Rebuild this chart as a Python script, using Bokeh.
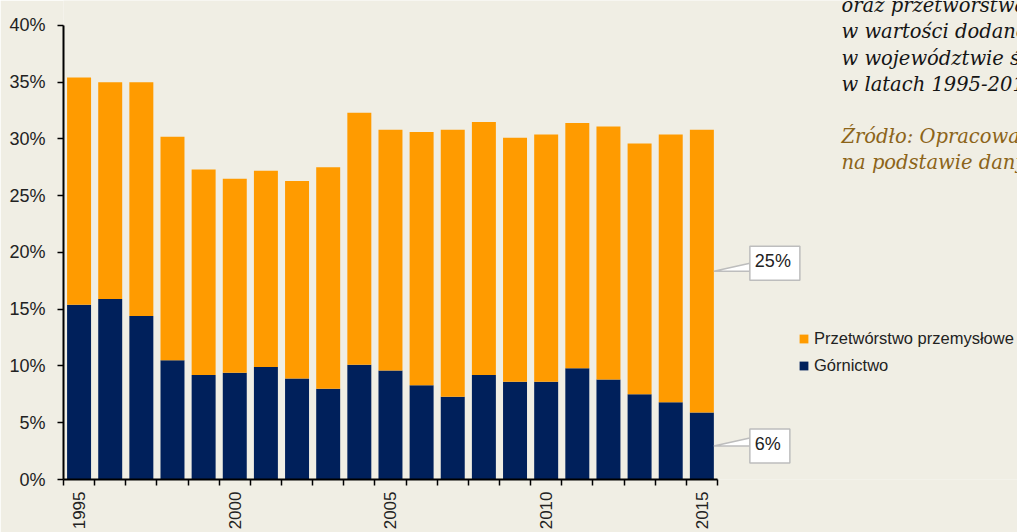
import math
from bokeh.plotting import figure
from bokeh.models import (Range1d, FixedTicker, Label, ColumnDataSource,
                          Legend, LegendItem)
from bokeh.embed import file_html
from bokeh.resources import INLINE

# ---------------- data ----------------
years = list(range(1995, 2016))
gornictwo = [15.4, 15.9, 14.4, 10.5, 9.2, 9.4, 9.9, 8.9, 8.0, 10.1, 9.6,
             8.3, 7.3, 9.2, 8.6, 8.6, 9.8, 8.8, 7.5, 6.8, 5.9]
przetworstwo = [20.0, 19.1, 20.6, 19.7, 18.1, 17.1, 17.3, 17.4, 19.5, 22.2, 21.2,
                22.3, 23.5, 22.3, 21.5, 21.8, 21.6, 22.3, 22.1, 23.6, 24.9]
series_names = ["Górnictwo", "Przetwórstwo przemysłowe"]
label_years = [1995, 2000, 2005, 2010, 2015]
year_labels = ["1995", "2000", "2005", "2010", "2015"]
y_ticks = [0, 5, 10, 15, 20, 25, 30, 35, 40]
y_tick_labels = ["0%", "5%", "10%", "15%", "20%", "25%", "30%", "35%", "40%"]
title_lines = ["oraz przetwórstwa przemysłowego",
               "w wartości dodanej brutto",
               "w województwie śląskim",
               "w latach 1995-2015"]
source_lines = ["Źródło: Opracowanie własne",
                "na podstawie danych GUS"]

# ---------------- style ----------------
BG = "#F0EEE4"
ORANGE = "#FF9B00"
NAVY = "#00205B"
SANS = "Liberation Sans"
SERIF = "DejaVu Serif"
TXT = "#222222"
W, H = 1017, 532
LEFT, BOTTOM, TOP_GAP = 63, 51, 25
PX_PER_YEAR = 31.14
BAR_W = 0.77
frame_w = W - LEFT
frame_h = H - BOTTOM
Y_MAX = 40
Y_TOP = Y_MAX * frame_h / (frame_h - TOP_GAP)
x0 = years[0] - 0.5
x1 = x0 + frame_w / PX_PER_YEAR
px_x = 1.0 / PX_PER_YEAR
px_y = Y_TOP / frame_h

p = figure(width=W, height=H, output_backend="svg", toolbar_location=None,
           x_range=Range1d(x0, x1), y_range=Range1d(0, Y_TOP),
           min_border_left=LEFT, min_border_top=0, min_border_bottom=BOTTOM,
           min_border_right=0)
p.background_fill_color = BG
p.border_fill_color = BG
p.outline_line_color = None
p.xgrid.visible = False
p.ygrid.visible = False

src = ColumnDataSource(dict(year=years, gornictwo=gornictwo, przetworstwo=przetworstwo))
rs = p.vbar_stack(["gornictwo", "przetworstwo"], x="year", width=BAR_W,
                  color=[NAVY, ORANGE], line_color=None, source=src)

# x axis: boundary ticks (minor) + rotated year labels (major, no tick marks)
boundaries = [y - 0.5 for y in years] + [years[-1] + 0.5]
xa = p.xaxis[0]
xa.ticker = FixedTicker(ticks=label_years, minor_ticks=boundaries)
xa.major_label_overrides = {y: t for y, t in zip(label_years, year_labels)}
xa.bounds = (boundaries[0], boundaries[-1])
xa.major_tick_line_color = None
xa.major_tick_out = 6
xa.major_tick_in = 0
xa.minor_tick_out = 6
xa.minor_tick_in = 0
xa.minor_tick_line_color = "black"
xa.minor_tick_line_width = 1.5
xa.axis_line_width = 2
xa.axis_line_color = "black"
xa.major_label_orientation = math.pi / 2
xa.major_label_standoff = 6
xa.major_label_text_font = SANS
xa.major_label_text_font_size = "17px"
xa.major_label_text_color = TXT

ya = p.yaxis[0]
ya.ticker = FixedTicker(ticks=y_ticks)
ya.major_label_overrides = {t: l for t, l in zip(y_ticks, y_tick_labels)}
ya.bounds = (0, Y_MAX)
ya.major_tick_out = 6
ya.major_tick_in = 0
ya.minor_tick_line_color = None
ya.axis_line_width = 2
ya.major_tick_line_width = 1.5
ya.major_label_standoff = 12
ya.major_label_text_font = SANS
ya.major_label_text_font_size = "18px"
ya.major_label_text_color = TXT

# legend
legend = Legend(items=[LegendItem(label=series_names[1], renderers=[rs[1]]),
                       LegendItem(label=series_names[0], renderers=[rs[0]])],
                location=(735, 104), glyph_width=11, glyph_height=11,
                label_standoff=5, spacing=8, padding=0, margin=0,
                border_line_color=None, background_fill_alpha=0,
                label_text_font=SANS, label_text_font_size="16.5px",
                label_text_color=TXT)
p.add_layout(legend)

# callouts for the last bar
last = len(years) - 1
tip_x = years[last] + BAR_W / 2
callouts = [
    (gornictwo[last] + przetworstwo[last] / 2, przetworstwo[last], 36, 8),
    (gornictwo[last] / 2, gornictwo[last], 36, 0),
]
xs, ys = [], []
for mid, val, off, dy in callouts:
    bx = tip_x + off * px_x
    xs.append([tip_x, bx, bx])
    ys.append([mid, mid + 8 * px_y, mid])
p.patches(xs=xs, ys=ys, fill_color="white", line_color="#BDBDBD", line_width=1.5)
for mid, val, off, dy in callouts:
    p.add_layout(Label(x=tip_x, y=mid, x_offset=off, y_offset=dy,
                       text=f"{round(val):d}%", text_align="left", text_baseline="middle",
                       text_font=SANS, text_font_size="18px", text_color=TXT,
                       background_fill_color="white", border_line_color="#BDBDBD",
                       border_line_width=1.5, padding=(5, 9, 5, 9)))

# text block (top right); screen units are relative to the plot frame
TX = 841 - LEFT
for i, line in enumerate(title_lines):
    base = 7 + 26.3 * i
    p.add_layout(Label(x=TX, y=frame_h - base, x_units="screen", y_units="screen",
                       text=line, text_font=SERIF, text_font_style="italic",
                       text_font_size="19.5px", text_color="#151515",
                       text_baseline="alphabetic"))
for i, line in enumerate(source_lines):
    base = 138 + 26 * i
    p.add_layout(Label(x=TX, y=frame_h - base, x_units="screen", y_units="screen",
                       text=line, text_font=SERIF, text_font_style="italic",
                       text_font_size="19.5px", text_color="#8C6419",
                       text_baseline="alphabetic"))

open("out.html", "w").write(file_html(p, INLINE))
